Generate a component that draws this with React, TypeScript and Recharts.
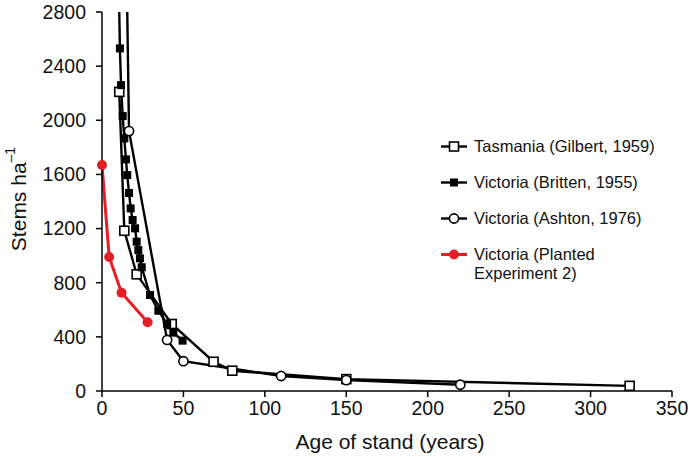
import React from 'react';
import { LineChart, Line, XAxis, YAxis, Legend, Label } from 'recharts';

// Stand density vs age
const tasmaniaAge = [10.6, 13.7, 21.3, 42.8, 68.5, 80, 150, 324];
const tasmaniaStems = [2210, 1184, 862, 495, 216, 150, 88, 38];

const brittenAge = [10, 11, 11.7, 12.7, 13.7, 14.7, 15.5, 16.6, 17.6, 18.8, 20.3, 21.3, 22.3, 23.3, 24.4, 29.5, 34.6, 40, 43.8, 49.5];
const brittenStems = [3200, 2531, 2260, 2031, 1866, 1711, 1595, 1463, 1349, 1263, 1202, 1103, 1041, 980, 914, 709, 593, 495, 431, 372];

const ashtonAge = [14, 16.6, 40, 50, 110, 150, 220];
const ashtonStems = [4000, 1920, 377, 220, 111, 80, 46];

const plantedAge = [0, 4.4, 12, 28];
const plantedStems = [1670, 990, 726, 508];

const xTicks = [0, 50, 100, 150, 200, 250, 300, 350];
const yTicks = [0, 400, 800, 1200, 1600, 2000, 2400, 2800];

const seriesNames = [
    'Tasmania (Gilbert, 1959)',
    'Victoria (Britten, 1955)',
    'Victoria (Ashton, 1976)',
    'Victoria (Planted Experiment 2)',
];

const RED = '#e41f26';
const FONT = '"Liberation Sans", Arial, Helvetica, sans-serif';

const toRows = (ages: number[], stems: number[]) =>
    ages.map((age, i) => ({ age, stems: stems[i] }));

const tasmania = toRows(tasmaniaAge, tasmaniaStems);
const britten = toRows(brittenAge, brittenStems);
const ashton = toRows(ashtonAge, ashtonStems);
const planted = toRows(plantedAge, plantedStems);

type Kind = 'openSquare' | 'square' | 'openCircle' | 'redCircle';

function Marker({ kind, cx, cy }: { kind: Kind; cx: number; cy: number }) {
    if (kind === 'openSquare') {
        return <rect x={cx - 4.5} y={cy - 4.5} width={9} height={9} fill="#fff" stroke="#000" strokeWidth={1.6} />;
    }
    if (kind === 'square') {
        return <rect x={cx - 4} y={cy - 4} width={8} height={8} fill="#000" />;
    }
    if (kind === 'openCircle') {
        return <circle cx={cx} cy={cy} r={4.6} fill="#fff" stroke="#000" strokeWidth={1.6} />;
    }
    return <circle cx={cx} cy={cy} r={5} fill={RED} />;
}

const makeDot = (kind: Kind) => (props: any) => {
    const { cx, cy, index } = props;
    if (cx == null || cy == null) return <g key={`${kind}-${index}`} />;
    return (
        <g key={`${kind}-${index}`}>
            <Marker kind={kind} cx={cx} cy={cy} />
        </g>
    );
};

const legendKinds: Kind[] = ['openSquare', 'square', 'openCircle', 'redCircle'];

function renderLegend() {
    return (
        <div style={{ fontFamily: FONT, fontSize: 16.5, color: '#111' }}>
            {seriesNames.map((name, i) => {
                const kind = legendKinds[i];
                const color = kind === 'redCircle' ? RED : '#000';
                return (
                    <div key={name} style={{ display: 'flex', alignItems: 'flex-start', marginBottom: 17 }}>
                        <svg width={26} height={19} style={{ flex: 'none' }}>
                            <line x1={0} y1={9.5} x2={26} y2={9.5} stroke={color} strokeWidth={kind === 'redCircle' ? 3 : 2.4} />
                            <Marker kind={kind} cx={13} cy={9.5} />
                        </svg>
                        <span style={{ marginLeft: 7, lineHeight: '19px', width: 190 }}>{name}</span>
                    </div>
                );
            })}
        </div>
    );
}

function YTitle() {
    return (
        <text
            x={18}
            y={199}
            transform="rotate(-90 18 199)"
            textAnchor="middle"
            dominantBaseline="central"
            fontFamily={FONT}
            fontSize={21}
            fill="#111"
        >
            Stems ha
            <tspan dy={-8} fontSize={14}>–1</tspan>
        </text>
    );
}

function XTitle() {
    return (
        <text x={390} y={441} textAnchor="middle" dominantBaseline="central" fontFamily={FONT} fontSize={21} fill="#111">
            Age of stand (years)
        </text>
    );
}

export default function App() {
    const tick = { fontSize: 19.5, fill: '#111', fontFamily: FONT };
    return (
        <div style={{ position: 'absolute', left: 0, top: 0, background: '#fff' }}>
            <LineChart width={690} height={458} margin={{ top: 12, right: 18, bottom: 0, left: 0 }}>
                <XAxis
                    dataKey="age"
                    type="number"
                    domain={[0, 350]}
                    ticks={xTicks}
                    height={67}
                    tick={tick}
                    tickSize={6}
                    tickMargin={4}
                    stroke="#000"
                    strokeWidth={1.5}
                >
                    <Label content={<XTitle />} />
                </XAxis>
                <YAxis
                    type="number"
                    domain={[0, 2800]}
                    ticks={yTicks}
                    allowDataOverflow
                    width={102}
                    tick={tick}
                    tickSize={6}
                    tickMargin={10}
                    stroke="#000"
                    strokeWidth={1.5}
                >
                    <Label content={<YTitle />} />
                </YAxis>
                <Legend
                    layout="vertical"
                    align="center"
                    verticalAlign="middle"
                    content={renderLegend}
                    wrapperStyle={{ left: 441, top: 137, width: 245 }}
                />
                <Line
                    data={tasmania}
                    dataKey="stems"
                    name={seriesNames[0]}
                    stroke="#000"
                    strokeWidth={2.4}
                    dot={makeDot('openSquare')}
                    isAnimationActive={false}
                />
                <Line
                    data={britten}
                    dataKey="stems"
                    name={seriesNames[1]}
                    stroke="#000"
                    strokeWidth={2.4}
                    dot={makeDot('square')}
                    isAnimationActive={false}
                />
                <Line
                    data={ashton}
                    dataKey="stems"
                    name={seriesNames[2]}
                    stroke="#000"
                    strokeWidth={2.4}
                    dot={makeDot('openCircle')}
                    isAnimationActive={false}
                />
                <Line
                    data={planted}
                    dataKey="stems"
                    name={seriesNames[3]}
                    stroke={RED}
                    strokeWidth={3}
                    dot={{ r: 5, fill: RED, stroke: RED, strokeWidth: 0, clipDot: false }}
                    isAnimationActive={false}
                />
            </LineChart>
        </div>
    );
}
